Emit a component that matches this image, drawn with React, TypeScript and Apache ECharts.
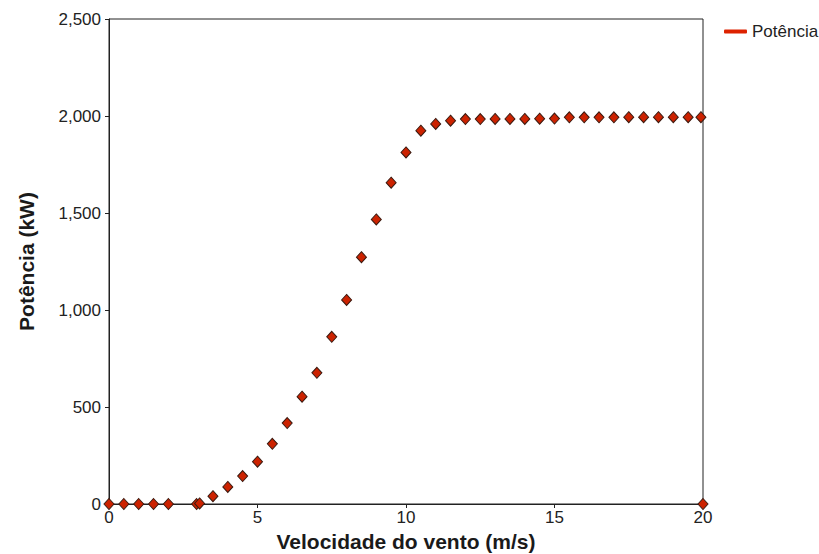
import React, { useEffect, useRef } from "react";
import * as echarts from "echarts";

const windSpeed: number[] = [
  0, 0.5, 1, 1.5, 2, 2.95, 3.05, 3.5, 4, 4.5, 5, 5.5, 6, 6.5, 7, 7.5, 8, 8.5, 9, 9.5,
  10, 10.5, 11, 11.5, 12, 12.5, 13, 13.5, 14, 14.5, 15, 15.5, 16, 16.5, 17, 17.5, 18,
  18.5, 19, 19.5, 19.93, 20,
];
const power: number[] = [
  0, 0, 0, 0, 0, 0, 3, 40, 88, 144, 218, 310, 417, 553, 676, 862, 1052, 1272, 1467, 1656,
  1812, 1924, 1959, 1976, 1984, 1984, 1985, 1985, 1985, 1986, 1987, 1993, 1993, 1993, 1993,
  1994, 1994, 1994, 1994, 1994, 1994, 0,
];
const seriesName = "Potência";
const xTitle = "Velocidade do vento (m/s)";
const yTitle = "Potência (kW)";

export default function App() {
  const ref = useRef<HTMLDivElement>(null);
  useEffect(() => {
    if (!ref.current) return;
    const chart = echarts.init(ref.current, undefined, { renderer: "svg" });
    const data = windSpeed.map((x, i) => [x, power[i]]);
    const font = "Arial, 'Liberation Sans', sans-serif";
    chart.setOption({
      animation: false,
      backgroundColor: "#ffffff",
      textStyle: { fontFamily: font },
      grid: {
        left: 109,
        top: 19,
        right: 116,
        bottom: 50,
        containLabel: false,
        outerBoundsMode: "none",
        show: true,
        borderColor: "#222",
        borderWidth: 1,
        backgroundColor: "transparent",
      },
      legend: {
        left: 719,
        top: 18,
        icon: "roundRect",
        itemWidth: 23,
        itemHeight: 4,
        itemGap: 6,
        textStyle: { fontSize: 17, color: "#222", fontFamily: font },
        data: [{ name: seriesName, itemStyle: { color: "#dd2200", borderWidth: 0, opacity: 1 } }],
      },
      xAxis: {
        type: "value",
        min: 0,
        max: 20,
        interval: 5,
        name: xTitle,
        nameLocation: "middle",
        nameGap: 22,
        nameTextStyle: { fontSize: 21, fontWeight: "bold", color: "#1a1a1a", fontFamily: font },
        axisLine: { show: true, lineStyle: { color: "#222", width: 1 } },
        axisTick: { show: true, length: 4, lineStyle: { color: "#222" } },
        axisLabel: { fontSize: 17, color: "#222", margin: 5, fontFamily: font },
        splitLine: { show: false },
      },
      yAxis: {
        type: "value",
        min: 0,
        max: 2500,
        interval: 500,
        name: yTitle,
        nameLocation: "middle",
        nameGap: 72,
        nameTextStyle: { fontSize: 21, fontWeight: "bold", color: "#1a1a1a", fontFamily: font },
        axisLine: { show: true, lineStyle: { color: "#222", width: 1 } },
        axisTick: { show: true, length: 4, lineStyle: { color: "#222" } },
        axisLabel: { fontSize: 17, color: "#222", margin: 8, fontFamily: font },
        splitLine: { show: false },
      },
      series: [
        {
          name: seriesName,
          type: "scatter",
          symbol: "diamond",
          symbolSize: [10, 11],
          itemStyle: { color: "#cc2200", borderColor: "#3a1a10", borderWidth: 1, opacity: 1 },
          data,
          clip: false,
        },
      ],
    });
    return () => chart.dispose();
  }, []);
  return (
    <div
      ref={ref}
      style={{ position: "fixed", left: 0, top: 0, width: 819, height: 554, background: "#fff" }}
    />
  );
}
